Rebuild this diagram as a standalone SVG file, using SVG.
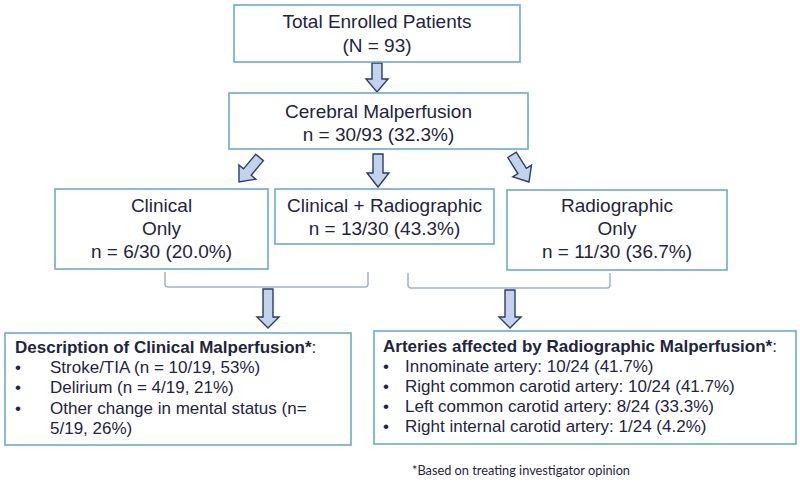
<svg xmlns="http://www.w3.org/2000/svg" width="800" height="484" viewBox="0 0 800 484">
  <style>
    .box { fill: #ffffff; stroke: #6aaccf; stroke-width: 1.6; }
    .t { font-family: "Liberation Sans", Arial, sans-serif; font-size: 19px; fill: #1f2440; text-anchor: middle; }
    .l { font-family: "Liberation Sans", Arial, sans-serif; font-size: 17px; fill: #1f2440; }
    .b { font-weight: bold; }
    .arrow { fill: #c3d3ee; stroke: #2c3d63; stroke-width: 1.4; stroke-linejoin: miter; }
    .brace { fill: none; stroke: #9fb2cc; stroke-width: 1.5; }
    .note { font-family: Lato, "Open Sans", sans-serif; font-size: 13.5px; fill: #1f2440; }
  </style>
  <defs>
    <polygon id="darr" points="-5,-32 5,-32 5,-13 11,-13 0,0 -11,-13 -5,-13"/>
  </defs>

  <rect width="800" height="484" fill="#ffffff"/>

  <!-- connectors: block arrows and grouping brackets -->
  <g id="connectors">
    <polygon class="arrow" points="372,63 382,63 382,79 388,79 377,92 366,79 372,79"/>
    <use href="#darr" class="arrow" transform="translate(239,182) rotate(40)"/>
    <polygon class="arrow" points="373,154 383,154 383,173 389,173 378,187 367,173 373,173"/>
    <use href="#darr" class="arrow" transform="translate(529,182) rotate(-32)"/>
    <path class="brace" d="M165,272 V284 Q165,287 168,287 H365 Q368,287 368,284 V272"/>
    <path class="brace" d="M408,273 V285 Q408,288 411,288 H607 Q610,288 610,285 V273"/>
    <polygon class="arrow" points="263,289 273,289 273,317 279,317 268,328 257,317 263,317"/>
    <polygon class="arrow" points="505,290 515,290 515,317 521,317 510,328 499,317 505,317"/>
  </g>

  <g id="total">
    <rect class="box" x="234" y="5" width="286" height="57"/>
    <text class="t" x="377" y="28">Total Enrolled Patients</text>
    <text class="t" x="377" y="52">(N = 93)</text>
  </g>

  <g id="cerebral">
    <rect class="box" x="229" y="93" width="299" height="56"/>
    <text class="t" x="378.5" y="118">Cerebral Malperfusion</text>
    <text class="t" x="378.5" y="141">n = 30/93 (32.3%)</text>
  </g>

  <g id="clinical-only">
    <rect class="box" x="55" y="189" width="213" height="80"/>
    <text class="t" x="161.5" y="212">Clinical</text>
    <text class="t" x="161.5" y="235">Only</text>
    <text class="t" x="161.5" y="258">n = 6/30 (20.0%)</text>
  </g>

  <g id="clinical-radiographic">
    <rect class="box" x="275" y="189" width="219" height="55"/>
    <text class="t" x="384.5" y="212">Clinical + Radiographic</text>
    <text class="t" x="384.5" y="235">n = 13/30 (43.3%)</text>
  </g>

  <g id="radiographic-only">
    <rect class="box" x="507" y="190" width="220" height="80"/>
    <text class="t" x="617" y="212">Radiographic</text>
    <text class="t" x="617" y="235">Only</text>
    <text class="t" x="617" y="258">n = 11/30 (36.7%)</text>
  </g>

  <g id="clinical-description">
    <rect class="box" x="5" y="333" width="346" height="112"/>
    <text class="l" x="15" y="353"><tspan class="b">Description of Clinical Malperfusion*</tspan>:</text>
    <text class="l" x="15" y="373">•</text>
    <text class="l" x="50" y="373">Stroke/TIA (n = 10/19, 53%)</text>
    <text class="l" x="15" y="393">•</text>
    <text class="l" x="50" y="393">Delirium (n = 4/19, 21%)</text>
    <text class="l" x="15" y="414">•</text>
    <text class="l" x="50" y="414">Other change in mental status (n=</text>
    <text class="l" x="50" y="434">5/19, 26%)</text>
  </g>

  <g id="arteries">
    <rect class="box" x="374" y="331" width="422" height="113"/>
    <text class="l" x="383" y="352"><tspan class="b">Arteries affected by Radiographic Malperfusion*</tspan>:</text>
    <text class="l" x="383" y="372">•</text>
    <text class="l" x="405" y="372">Innominate artery: 10/24 (41.7%)</text>
    <text class="l" x="383" y="392">•</text>
    <text class="l" x="405" y="392">Right common carotid artery: 10/24 (41.7%)</text>
    <text class="l" x="383" y="412">•</text>
    <text class="l" x="405" y="412">Left common carotid artery: 8/24 (33.3%)</text>
    <text class="l" x="383" y="432">•</text>
    <text class="l" x="405" y="432">Right internal carotid artery: 1/24 (4.2%)</text>
  </g>

  <text class="note" x="412" y="475" textLength="218" lengthAdjust="spacingAndGlyphs">*Based on treating investigator opinion</text>
</svg>
